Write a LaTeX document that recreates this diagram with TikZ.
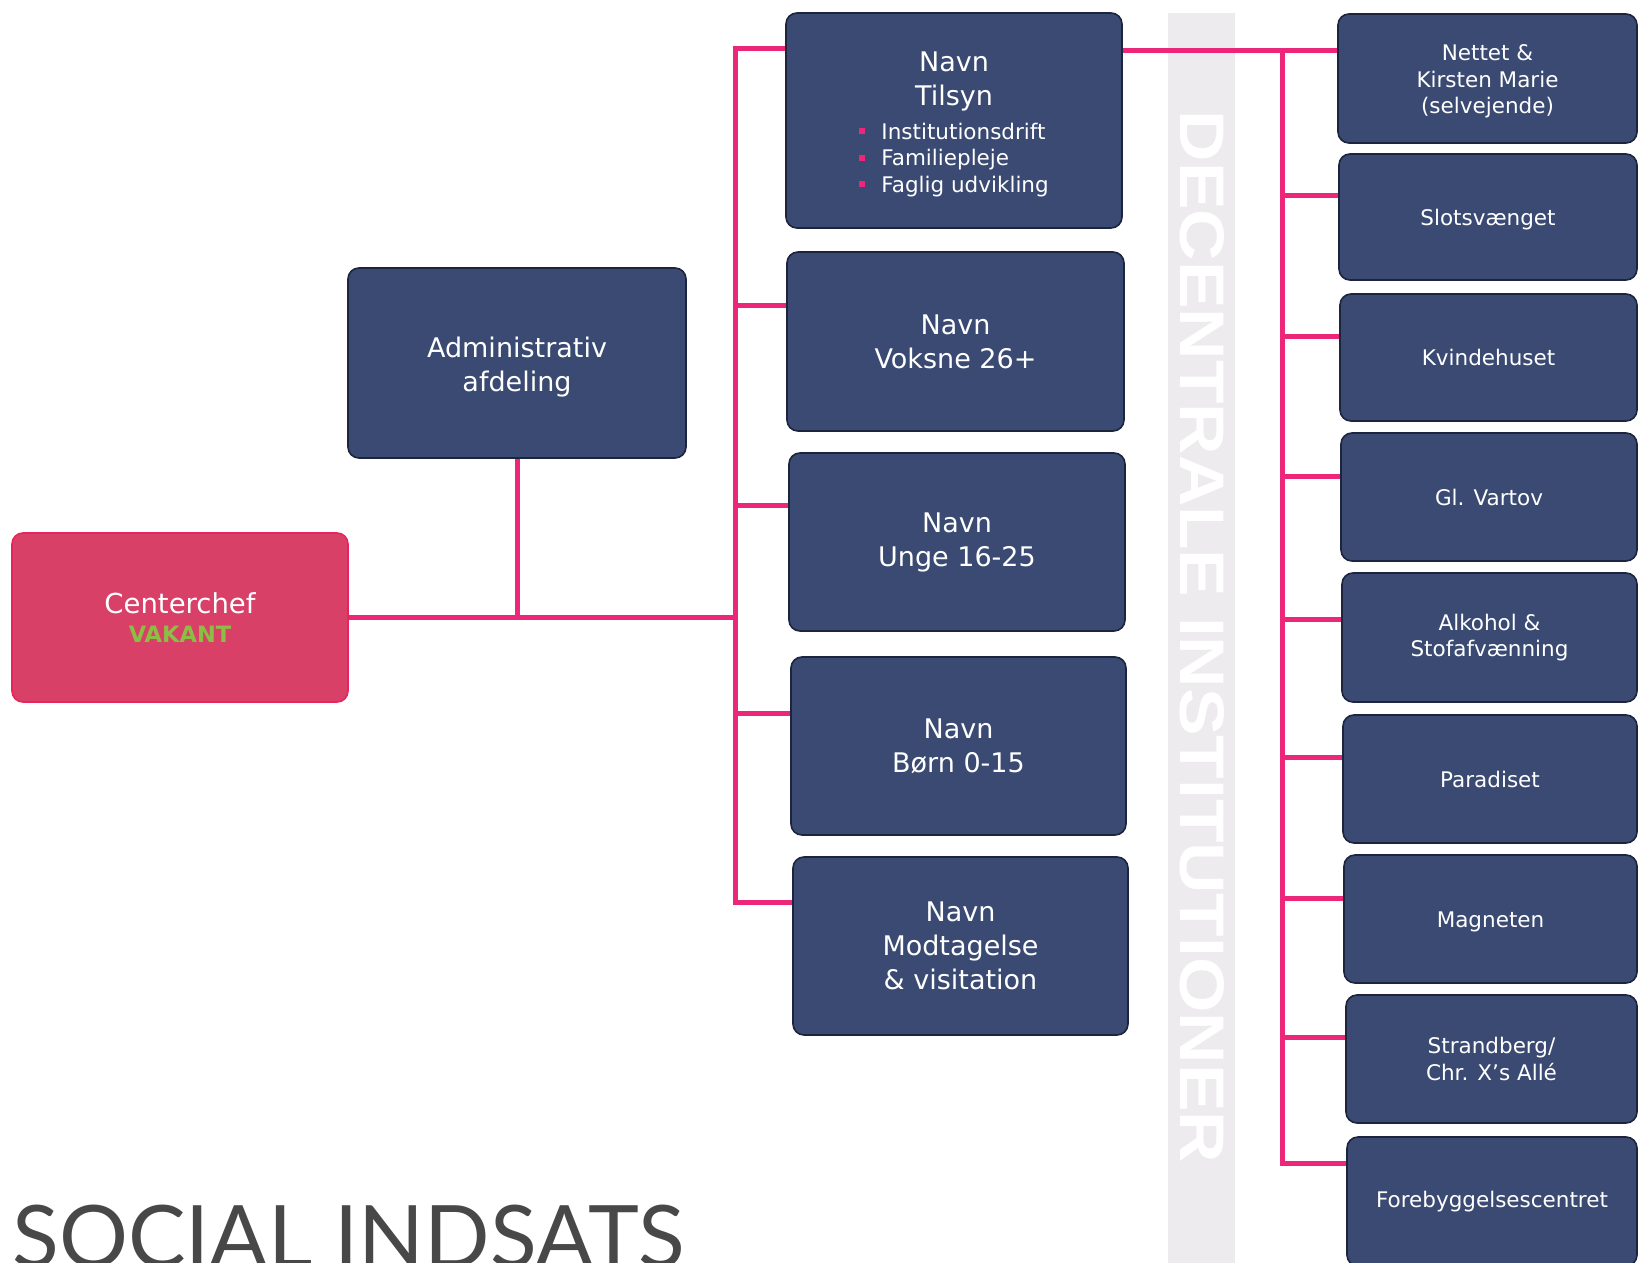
\documentclass[tikz,border=0pt]{standalone}
\usepackage{fontspec}
\setmainfont{DejaVu Sans}
\newfontfamily\titlefont{Lato}
\newfontfamily\bandfont{Liberation Sans}
\usepackage{graphicx}
\definecolor{navy}{RGB}{58,74,114}
\definecolor{boxedge}{RGB}{28,36,62}
\definecolor{pinkline}{RGB}{236,38,120}
\definecolor{cheffill}{RGB}{216,64,104}
\definecolor{chefedge}{RGB}{232,36,92}
\definecolor{vgreen}{RGB}{140,190,70}
\definecolor{bandgray}{RGB}{238,235,238}
\definecolor{titlegray}{RGB}{72,72,72}
\newcommand{\pbul}{\textcolor{pinkline}{\rule[0.22em]{0.28em}{0.28em}}\hspace{0.75em}}
\tikzset{
  box/.style={draw=boxedge, line width=1.6pt, fill=navy, rounded corners=11pt, text=white, align=center, inner sep=0pt},
  midbox/.style={box, font=\fontsize{27}{34}\selectfont},
  rbox/.style={box, font=\fontsize{21.5}{26.5}\selectfont},
  chefbox/.style={draw=chefedge, line width=1.6pt, fill=cheffill, rounded corners=11pt, text=white, align=center, inner sep=0pt, font=\fontsize{27.5}{29}\selectfont},
  link/.style={draw=pinkline, line width=5pt, line join=miter},
}
\begin{document}
\begin{tikzpicture}[x=1pt,y=-1pt]
\useasboundingbox (0,0) rectangle (1639,1263);
\clip (0,0) rectangle (1639,1263);
% band
\fill[bandgray] (1168,13) rectangle (1235,1263);
\node[rotate=-90, text=white, inner sep=0pt, font=\bandfont\fontsize{63}{63}\selectfont\bfseries] (band) at (1202,637) {\scalebox{1.13}[1]{DECENTRALE INSTITUTIONER}};
% left boxes
\node[chefbox, minimum width=336pt, minimum height=169pt] (chef) at (180,617.5) {Centerchef\\{\fontsize{22.5}{29}\selectfont\bfseries\color{vgreen}VAKANT}};
\node[midbox, minimum width=338pt, minimum height=190pt] (admin) at (517,363) {\rule{0pt}{28.5pt}Administrativ\\afdeling};
% middle boxes
\node[midbox, minimum width=336pt, minimum height=215pt] (tilsyn) at (954,120.5) {\rule{0pt}{30pt}Navn\\Tilsyn\\{\fontsize{21.5}{26.5}\selectfont\begin{tabular}[t]{@{}l@{}}\pbul Institutionsdrift\\ \pbul Familiepleje\\ \pbul Faglig udvikling\end{tabular}}};
\node[midbox, minimum width=337pt, minimum height=179pt] (voksne) at (955.5,341.5) {Navn\\Voksne 26+};
\node[midbox, minimum width=336pt, minimum height=178pt] (unge) at (957,542) {Navn\\Unge 16-25};
\node[midbox, minimum width=335pt, minimum height=178pt] (born) at (958.5,746) {Navn\\Børn 0-15};
\node[midbox, minimum width=335pt, minimum height=178pt] (modt) at (960.5,946) {Navn\\Modtagelse\\\& visitation};
% right boxes
\node[rbox, minimum width=299pt, minimum height=129pt] (r1) at (1487.5,78.5) {\rule{0pt}{22pt}Nettet \&\\Kirsten Marie\\(selvejende)};
\node[rbox, minimum width=298pt, minimum height=126pt] (r2) at (1488,217) {\rule{0pt}{22pt}Slotsvænget};
\node[rbox, minimum width=297pt, minimum height=127pt] (r3) at (1488.5,357.5) {Kvindehuset};
\node[rbox, minimum width=296pt, minimum height=128pt] (r4) at (1489,497) {Gl. Vartov};
\node[rbox, minimum width=295pt, minimum height=129pt] (r5) at (1489.5,637.5) {Alkohol \&\\Stofafvænning};
\node[rbox, minimum width=294pt, minimum height=128pt] (r6) at (1490,779) {Paradiset};
\node[rbox, minimum width=293pt, minimum height=128pt] (r7) at (1490.5,919) {\rule{0pt}{22pt}Magneten};
\node[rbox, minimum width=291pt, minimum height=128pt] (r8) at (1491.5,1059) {Strandberg/\\Chr. X’s Allé};
\node[rbox, minimum width=290pt, minimum height=129pt] (r9) at (1492,1201.5) {Forebyggelsescentret};
% title
\node[anchor=north west, inner sep=0pt, text=titlegray] (title) at (12,1205) {\resizebox{673pt}{!}{\titlefont SOCIAL INDSATS}};
% junction coordinates
\coordinate (lt) at (735,49);
\coordinate (lb) at (735,902);
\coordinate (jc) at (735,617.5);
\coordinate (sv) at (735,305);
\coordinate (su) at (735,505);
\coordinate (sb) at (735,713);
\coordinate (rt) at (1282,51);
\coordinate (rb) at (1282,1163);
\coordinate (s2) at (1282,195);
\coordinate (s3) at (1282,336);
\coordinate (s4) at (1282,476);
\coordinate (s5) at (1282,619);
\coordinate (s6) at (1282,757);
\coordinate (s7) at (1282,898);
\coordinate (s8) at (1282,1037);
% connectors
\draw[link] (chef.east) -- (jc);
\draw[link] (admin.south) -- (admin.south |- jc);
\draw[link] (lt -| tilsyn.west) -- (lt) -- (lb) -- (lb -| modt.west);
\draw[link] (sv) -- (sv -| voksne.west);
\draw[link] (su) -- (su -| unge.west);
\draw[link] (sb) -- (sb -| born.west);
\draw[link] (rt -| tilsyn.east) -- (rt -| r1.west);
\draw[link] (rt) -- (rb) -- (rb -| r9.west);
\draw[link] (s2) -- (s2 -| r2.west);
\draw[link] (s3) -- (s3 -| r3.west);
\draw[link] (s4) -- (s4 -| r4.west);
\draw[link] (s5) -- (s5 -| r5.west);
\draw[link] (s6) -- (s6 -| r6.west);
\draw[link] (s7) -- (s7 -| r7.west);
\draw[link] (s8) -- (s8 -| r8.west);
\end{tikzpicture}
\end{document}
